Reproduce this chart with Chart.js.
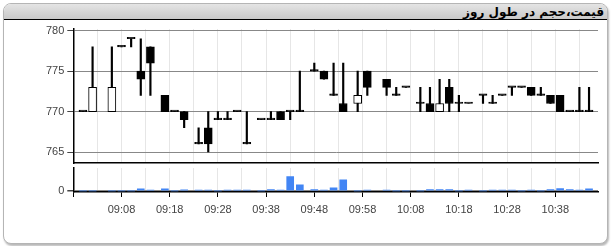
<!DOCTYPE html>
<html>
<head>
<meta charset="utf-8">
<script src="https://cdn.jsdelivr.net/npm/chart.js@4.4.0/dist/chart.umd.min.js"></script>
<style>
  body { margin: 0; width: 612px; height: 246px; overflow: hidden; background: #fff; }
  #frame { position: absolute; left: 3px; top: 3px; width: 603px; height: 239px;
           border: 1px solid #b5b5b5; border-radius: 8px; box-shadow: 1px 2px 2px rgba(0,0,0,.28); background: #fff; overflow: hidden; }
  #title { position: absolute; left: 0; top: 0; right: 0; height: 15px;
           background: linear-gradient(#e4e4e4, #c9c9c9); border-bottom: 1.5px solid #000;
           direction: rtl; text-align: right; padding-right: 3px;
           font: bold 12px "DejaVu Sans"; line-height: 16px; color: #000; }
  canvas { position: absolute; left: 0; }
  #price { top: 20px; }
  #vol { top: 165px; }
</style>
</head>
<body>
<div id="frame"><div id="title">قیمت،حجم در طول روز</div></div>
<canvas id="price" width="612" height="146"></canvas>
<canvas id="vol" width="612" height="56"></canvas>
<script>
const startTime = "08:58";
const times = ["09:00", "09:02", "09:06", "09:08", "09:10", "09:12", "09:14", "09:17", "09:19", "09:21",
  "09:24", "09:26", "09:28", "09:30", "09:32", "09:34", "09:37", "09:39", "09:41", "09:43",
  "09:45", "09:48", "09:50", "09:52", "09:54", "09:57", "09:59", "10:03", "10:05", "10:07",
  "10:10", "10:12", "10:14", "10:16", "10:18", "10:20", "10:23", "10:25", "10:27", "10:29",
  "10:31", "10:33", "10:35", "10:37", "10:39", "10:41", "10:43", "10:45"];
const open = [770, 770, 770, 778, 779, 775, 778, 772, 770, 770, 766, 768, 769, 769, 770, 766, 769, 769, 770, 770,
  770, 775, 775, 772, 771, 771, 775, 774, 772, 773, 771, 771, 770, 773, 771, 771, 772, 771, 772, 773,
  773, 773, 772, 772, 772, 770, 770, 770];
const high = [770, 778, 778, 778, 779, 779, 778, 772, 770, 770, 768, 770, 770, 770, 770, 770, 769, 770, 770, 770,
  775, 776, 775, 776, 776, 775, 775, 774, 773, 773, 773, 773, 774, 774, 772, 771, 772, 772, 772, 773,
  773, 773, 773, 772, 772, 770, 773, 773];
const low = [770, 770, 770, 778, 778, 772, 772, 770, 770, 768, 766, 765, 769, 769, 770, 766, 769, 769, 769, 769,
  770, 775, 774, 772, 770, 770, 772, 772, 772, 773, 770, 770, 770, 770, 770, 771, 771, 771, 772, 772,
  773, 772, 772, 771, 770, 770, 770, 770];
const close = [770, 773, 773, 778, 779, 774, 776, 770, 770, 769, 766, 766, 769, 769, 770, 766, 769, 769, 769, 770,
  770, 775, 774, 772, 770, 772, 773, 773, 772, 773, 771, 770, 771, 771, 771, 771, 772, 771, 772, 773,
  773, 772, 772, 771, 770, 770, 770, 770];
const volume = [0, 0, 0, 0, 0, 9, 3, 9, 0, 5, 3, 3, 0, 3, 3, 3, 0, 6, 3, 62,
  26, 6, 3, 13, 48, 0, 3, 3, 0, 0, 0, 6, 6, 6, 0, 3, 0, 3, 3, 3,
  0, 3, 0, 6, 10, 6, 3, 9];
const priceTicks = [765, 770, 775, 780];
const timeLabels = ["09:08", "09:18", "09:28", "09:38", "09:48", "09:58", "10:08", "10:18", "10:28", "10:38"];

const toMin = t => { const [h, m] = t.split(":").map(Number); return h * 60 + m; };
const base = toMin(startTime);
const fmt = v => { const m = base + v; return String(Math.floor(m / 60)).padStart(2, "0") + ":" + String(m % 60).padStart(2, "0"); };
const xs = times.map(t => toMin(t) - base);
const xMax = 108.86;
const everyFive = s => { s.ticks = []; for (let v = 0; v <= xMax; v += 5) s.ticks.push({ value: v }); };
// fixed axis width, and no extra room for half labels
const fixY = s => { s.width = 73.3; s.paddingTop = 0; s.paddingBottom = 0; };
const font = { family: "Liberation Sans", size: 11 };

Chart.defaults.animation = false;

new Chart(document.getElementById("price"), {
  type: "bar",
  data: {
    datasets: [
      {
        data: xs.map((x, i) => ({ x, y: [Math.min(open[i], close[i]), Math.max(open[i], close[i])] })),
        backgroundColor: c => close[c.dataIndex] > open[c.dataIndex] ? "#fff" : "#000",
        borderColor: "#000",
        borderWidth: 1,
        borderSkipped: false,
        barThickness: 8,
        minBarLength: 1.5,
        grouped: false,
      },
      {
        data: xs.map((x, i) => ({ x, y: [low[i], high[i]] })),
        backgroundColor: "#000",
        barThickness: 1.5,
        grouped: false,
      },
    ],
  },
  options: {
    responsive: false,
    layout: { padding: { left: 0, right: 14, top: 9, bottom: 3 } },
    plugins: { legend: { display: false }, tooltip: { enabled: false } },
    scales: {
      x: {
        type: "linear", min: 0, max: xMax, offset: false,
        afterBuildTicks: everyFive,
        afterFit: s => { s.height = 0; s.paddingLeft = 0; s.paddingRight = 0; },
        ticks: { display: false },
        grid: { offset: false, color: "#e6e6e6", drawTicks: false },
        border: { color: "#000", width: 1.5 },
      },
      y: {
        min: 763.64, max: 780.21,
        afterBuildTicks: s => { s.ticks = priceTicks.map(v => ({ value: v })); },
        afterFit: fixY,
        ticks: { color: "#444", font, padding: 3 },
        grid: { color: "#888", tickLength: 6, tickColor: "#444" },
        border: { color: "#000", width: 1.5 },
      },
    },
  },
});

new Chart(document.getElementById("vol"), {
  type: "bar",
  data: {
    datasets: [{
      data: xs.map((x, i) => ({ x, y: volume[i] })),
      backgroundColor: "#4285f4",
      barThickness: 7,
      grouped: false,
    }],
  },
  options: {
    responsive: false,
    layout: { padding: { left: 0, right: 14, top: 3, bottom: 0 } },
    plugins: { legend: { display: false }, tooltip: { enabled: false } },
    scales: {
      x: {
        type: "linear", min: 0, max: xMax, offset: false,
        afterBuildTicks: everyFive,
        afterFit: s => { s.height = 29; s.paddingLeft = 0; s.paddingRight = 0; },
        ticks: {
          color: "#444", font, padding: 6, autoSkip: false, maxRotation: 0,
          callback: v => timeLabels.includes(fmt(v)) ? fmt(v) : "",
        },
        grid: {
          offset: false, color: "#e6e6e6", tickLength: 5,
          tickColor: c => (c.tick && (c.tick.value === 0 || timeLabels.includes(fmt(c.tick.value)))) ? "#000" : "rgba(0,0,0,0)",
        },
        border: { color: "#000", width: 1.5 },
      },
      y: {
        min: -5, max: 100,
        afterBuildTicks: s => { s.ticks = [{ value: 0 }]; },
        afterFit: fixY,
        ticks: { color: "#444", font, padding: 3 },
        grid: { color: "#888", lineWidth: 1.5, tickLength: 6, tickColor: "#444" },
        border: { color: "#000", width: 1.5 },
      },
    },
  },
});
</script>
</body>
</html>
